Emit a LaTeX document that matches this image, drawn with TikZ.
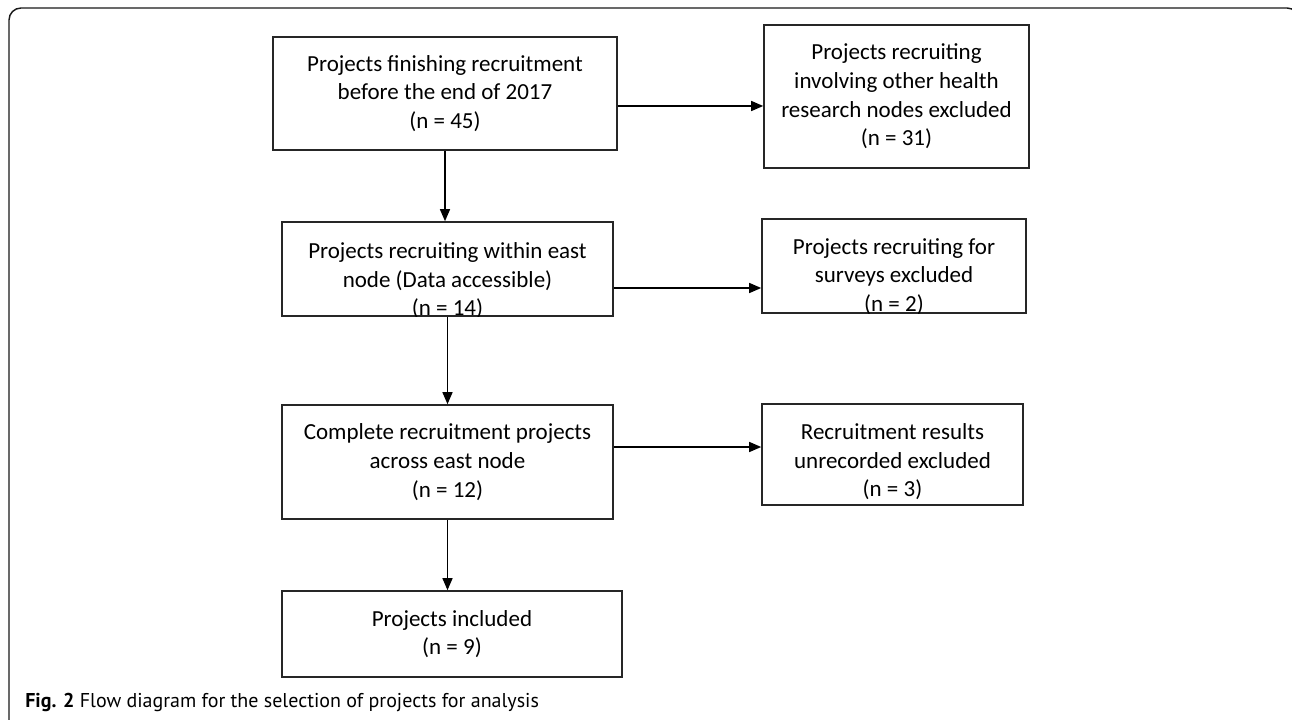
\documentclass[tikz,border=0pt]{standalone}
\usepackage{fontspec}
\setmainfont{Carlito}
\newfontfamily\capfont{PT Sans}
\usetikzlibrary{arrows.meta}

% text block pushed down inside its box (box size unchanged)
\newcommand{\lowtext}[2]{\raisebox{-#1}[\height][\depth]{\begin{tabular}{@{}c@{}}#2\end{tabular}}}

\tikzset{
  flowbox/.style={draw=black!85, line width=1.2pt, align=center, inner sep=2pt,
    font=\fontsize{17.25}{21.5}\selectfont},
  flowarrow/.style={draw=black, line width=1pt, -{Triangle[length=9pt,width=7.5pt]}}
}

\begin{document}
\begin{tikzpicture}[x=0.75pt,y=-0.75pt]
  \useasboundingbox (0,0) rectangle (1292,720);
  \draw[black!90, line width=1.1pt, rounded corners=9pt] (9,8) rectangle (1299,740);

  % main column
  \node[flowbox, minimum width=258pt, minimum height=84.75pt] (found) at (445,93.5)
    {Projects finishing recruitment\\before the end of 2017\\(n = 45)};
  \begin{scope}
    \clip (281.2,221.2) rectangle (613.8,316.8);
    \node[flowbox, minimum width=248.25pt, minimum height=70.5pt] (east) at (447.5,269)
      {\lowtext{9.4pt}{Projects recruiting within east\\node (Data accessible)\\(n = 14)}};
  \end{scope}
  \node[flowbox, minimum width=248.25pt, minimum height=85.5pt] (complete) at (447.5,462)
    {Complete recruitment projects\\across east node\\(n = 12)};
  \node[flowbox, minimum width=255pt, minimum height=64.5pt] (included) at (452,634)
    {Projects included\\(n = 9)};

  % exclusions
  \node[flowbox, minimum width=198.75pt, minimum height=107.25pt] (otherhr) at (896.5,96.5)
    {Projects recruiting\\involving other health\\research nodes excluded\\(n = 31)};
  \begin{scope}
    \clip (761.2,218.2) rectangle (1026.8,313.8);
    \node[flowbox, minimum width=198pt, minimum height=70.5pt] (surveys) at (894,266)
      {\lowtext{8.25pt}{Projects recruiting for\\surveys excluded\\(n = 2)}};
  \end{scope}
  \node[flowbox, minimum width=195.75pt, minimum height=75.75pt] (unrec) at (892.5,454.5)
    {\lowtext{6pt}{Recruitment results\\unrecorded excluded\\(n = 3)}};

  % arrows down
  \draw[flowarrow] (found.south) -- (found.south |- east.north);
  \draw[flowarrow] (east.south) -- (east.south |- complete.north);
  \draw[flowarrow] (complete.south) -- (complete.south |- included.north);

  % arrows across
  \path (found.east) ++(0,12.5) coordinate (s1);
  \draw[flowarrow] (s1) -- (s1 -| otherhr.west);
  \path (east.east) ++(0,19) coordinate (s2);
  \draw[flowarrow] (s2) -- (s2 -| surveys.west);
  \path (complete.east) ++(0,-15) coordinate (s3);
  \draw[flowarrow] (s3) -- (s3 -| unrec.west);

  \node[anchor=base west, inner sep=0pt, font=\capfont\fontsize{15}{18}\selectfont] (caption) at (25,707)
    {\textbf{Fig. 2} Flow diagram for the selection of projects for analysis};
\end{tikzpicture}
\end{document}
